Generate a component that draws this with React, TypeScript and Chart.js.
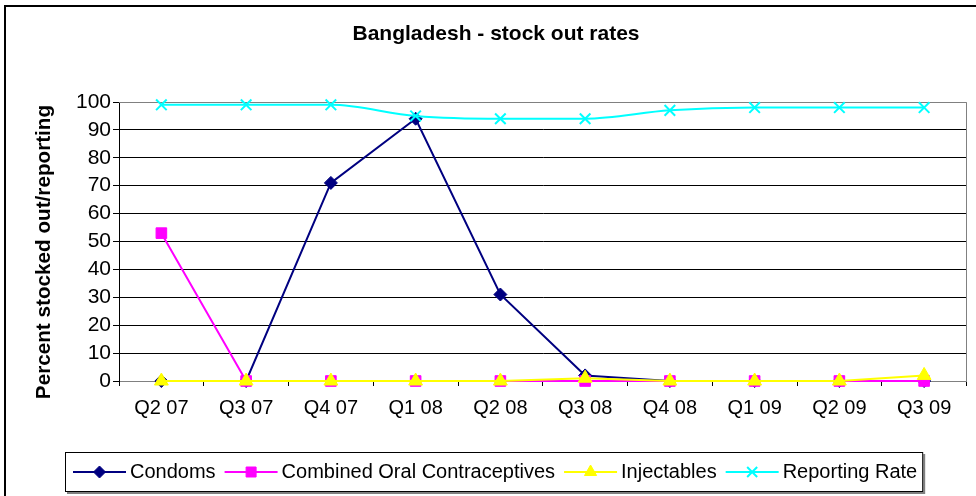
import React, { useEffect, useRef } from "react";
import { Chart, registerables } from "chart.js";

Chart.register(...registerables);

const categories = ["Q2 07", "Q3 07", "Q4 07", "Q1 08", "Q2 08", "Q3 08", "Q4 08", "Q1 09", "Q2 09", "Q3 09"];
const condoms = [0, 0, 71, 94, 31, 2, 0, 0, 0, 0];
const combinedOral = [53, 0, 0, 0, 0, 0, 0, 0, 0, 0];
const injectables = [0, 0, 0, 0, 0, 1, 0, 0, 0, 2];
const reportingRate = [99, 99, 99, 95, 94, 94, 97, 98, 98, 98];
const seriesNames = ["Condoms", "Combined Oral Contraceptives", "Injectables", "Reporting Rate"];
const seriesColors = ["#000080", "#FF00FF", "#FFFF00", "#00FFFF"];
const seriesMarkers = ["rectRot", "rect", "triangle", "crossRot"];
const chartTitle = "Bangladesh - stock out rates";
const yAxisTitle = "Percent stocked out/reporting";
const yMin = 0;
const yMax = 100;
const yStep = 10;

const FONT = '"Liberation Sans", Arial, Helvetica, sans-serif';

function drawMarker(ctx: CanvasRenderingContext2D, style: string, x: number, y: number, color: string) {
  ctx.save();
  ctx.fillStyle = color;
  ctx.strokeStyle = color;
  ctx.lineWidth = 1;
  ctx.beginPath();
  if (style === "rectRot") {
    const r = 6;
    ctx.moveTo(x, y - r);
    ctx.lineTo(x + r, y);
    ctx.lineTo(x, y + r);
    ctx.lineTo(x - r, y);
    ctx.closePath();
    ctx.fill();
    ctx.stroke();
  } else if (style === "rect") {
    const s = 5;
    ctx.rect(x - s, y - s, 2 * s, 2 * s);
    ctx.fill();
    ctx.stroke();
  } else if (style === "triangle") {
    const r = 7;
    ctx.moveTo(x, y - r);
    ctx.lineTo(x + r * 0.866, y + r * 0.5);
    ctx.lineTo(x - r * 0.866, y + r * 0.5);
    ctx.closePath();
    ctx.fill();
    ctx.stroke();
  } else {
    const r = 5;
    ctx.lineWidth = 2;
    ctx.moveTo(x - r, y - r);
    ctx.lineTo(x + r, y + r);
    ctx.moveTo(x + r, y - r);
    ctx.lineTo(x - r, y + r);
    ctx.stroke();
  }
  ctx.restore();
}

const decorPlugin = {
  id: "decor",
  beforeDraw(chart: any) {
    const ctx: CanvasRenderingContext2D = chart.ctx;
    ctx.save();
    ctx.fillStyle = "#ffffff";
    ctx.fillRect(0, 0, chart.width, chart.height);
    ctx.strokeStyle = "#000000";
    ctx.lineWidth = 2;
    ctx.strokeRect(5, 6, chart.width + 40, chart.height + 40);
    ctx.fillStyle = "#000000";
    ctx.font = "bold 21px " + FONT;
    ctx.textAlign = "center";
    ctx.textBaseline = "middle";
    ctx.fillText(chartTitle, 496, 34);
    ctx.translate(44, 252);
    ctx.rotate(-Math.PI / 2);
    ctx.font = "bold 20.7px " + FONT;
    ctx.fillText(yAxisTitle, 0, 0);
    ctx.restore();
  },
  beforeDatasetsDraw(chart: any) {
    const ctx: CanvasRenderingContext2D = chart.ctx;
    const { left, right, top, bottom } = chart.chartArea;
    ctx.save();
    ctx.strokeStyle = "#808080";
    ctx.lineWidth = 1;
    ctx.beginPath();
    ctx.moveTo(left, Math.round(top) + 0.5);
    ctx.lineTo(Math.round(right) - 0.5, Math.round(top) + 0.5);
    ctx.lineTo(Math.round(right) - 0.5, bottom);
    ctx.stroke();
    ctx.restore();
  },
  afterDraw(chart: any) {
    const ctx: CanvasRenderingContext2D = chart.ctx;
    ctx.save();
    ctx.font = "20px " + FONT;
    const boxLeft = 65;
    const boxTop = 452;
    const boxH = 40;
    const lineLen = 53;
    let x = boxLeft + 8;
    const items = seriesNames.map((n) => ctx.measureText(n).width);
    let total = 8;
    items.forEach((w, i) => {
      total += lineLen + 4 + w + (i < items.length - 1 ? 9 : 6);
    });
    const boxW = total;
    ctx.fillStyle = "#808080";
    ctx.fillRect(boxLeft + 2, boxTop + 2, boxW, boxH);
    ctx.fillStyle = "#ffffff";
    ctx.fillRect(boxLeft, boxTop, boxW, boxH);
    ctx.strokeStyle = "#000000";
    ctx.lineWidth = 1;
    ctx.strokeRect(boxLeft + 0.5, boxTop + 0.5, boxW - 1, boxH - 1);
    const cy = boxTop + boxH / 2;
    seriesNames.forEach((name, i) => {
      ctx.strokeStyle = seriesColors[i];
      ctx.lineWidth = 2;
      ctx.beginPath();
      ctx.moveTo(x, cy);
      ctx.lineTo(x + lineLen, cy);
      ctx.stroke();
      drawMarker(ctx, seriesMarkers[i], x + lineLen / 2, cy, seriesColors[i]);
      ctx.fillStyle = "#000000";
      ctx.textAlign = "left";
      ctx.textBaseline = "middle";
      ctx.fillText(name, x + lineLen + 4, cy);
      x += lineLen + 4 + items[i] + 9;
    });
    ctx.restore();
  },
};

export default function App() {
  const canvasRef = useRef<HTMLCanvasElement | null>(null);

  useEffect(() => {
    if (!canvasRef.current) return;
    const series = [condoms, combinedOral, injectables, reportingRate];
    const radii = [6.5, 7.5, 8, 7.5];
    const chart = new Chart(canvasRef.current, {
      type: "line",
      data: {
        labels: categories,
        datasets: series.map((data, i) => ({
          label: seriesNames[i],
          data,
          borderColor: seriesColors[i],
          backgroundColor: seriesColors[i],
          pointBackgroundColor: seriesColors[i],
          pointBorderColor: seriesColors[i],
          pointStyle: seriesMarkers[i] as any,
          pointRadius: radii[i],
          pointBorderWidth: i === 3 ? 2 : 1,
          borderWidth: 2,
          tension: i === 3 ? 0.4 : 0,
          cubicInterpolationMode: i === 3 ? "monotone" : "default",
          fill: false,
          clip: false,
          order: 3 - i,
        })),
      },
      options: {
        animation: false,
        responsive: false,
        events: [],
        layout: { padding: { left: 0, right: 6, top: 102, bottom: 55 } },
        plugins: {
          legend: { display: false },
          title: { display: false },
          tooltip: { enabled: false },
        },
        scales: {
          x: {
            type: "category",
            offset: true,
            grid: {
              offset: true,
              drawOnChartArea: false,
              drawTicks: true,
              tickLength: 5,
              color: "#000000",
              tickColor: "#000000",
            },
            border: { display: true, color: "#808080", width: 1 },
            ticks: {
              color: "#000000",
              font: { family: FONT, size: 20 },
              padding: 10,
              maxRotation: 0,
              autoSkip: false,
            },
            afterFit: (s: any) => {
              s.height = 60;
            },
          },
          y: {
            min: yMin,
            max: yMax,
            ticks: {
              stepSize: yStep,
              autoSkip: false,
              color: "#000000",
              font: { family: FONT, size: 21 },
              padding: 2,
            },
            grid: {
              color: (c: any) =>
                c.tick && (c.tick.value === yMin || c.tick.value === yMax) ? "#808080" : "#000000",
              tickColor: "#000000",
              tickLength: 6,
              drawTicks: true,
            },
            border: { display: true, color: "#000000", width: 1 },
            afterFit: (s: any) => {
              s.width = 119;
            },
          },
        },
      },
      plugins: [decorPlugin],
    } as any);
    return () => chart.destroy();
  }, []);

  return (
    <div style={{ position: "absolute", left: 0, top: 0, width: 976, height: 496 }}>
      <canvas ref={canvasRef} width={976} height={496} style={{ display: "block" }} />
    </div>
  );
}
